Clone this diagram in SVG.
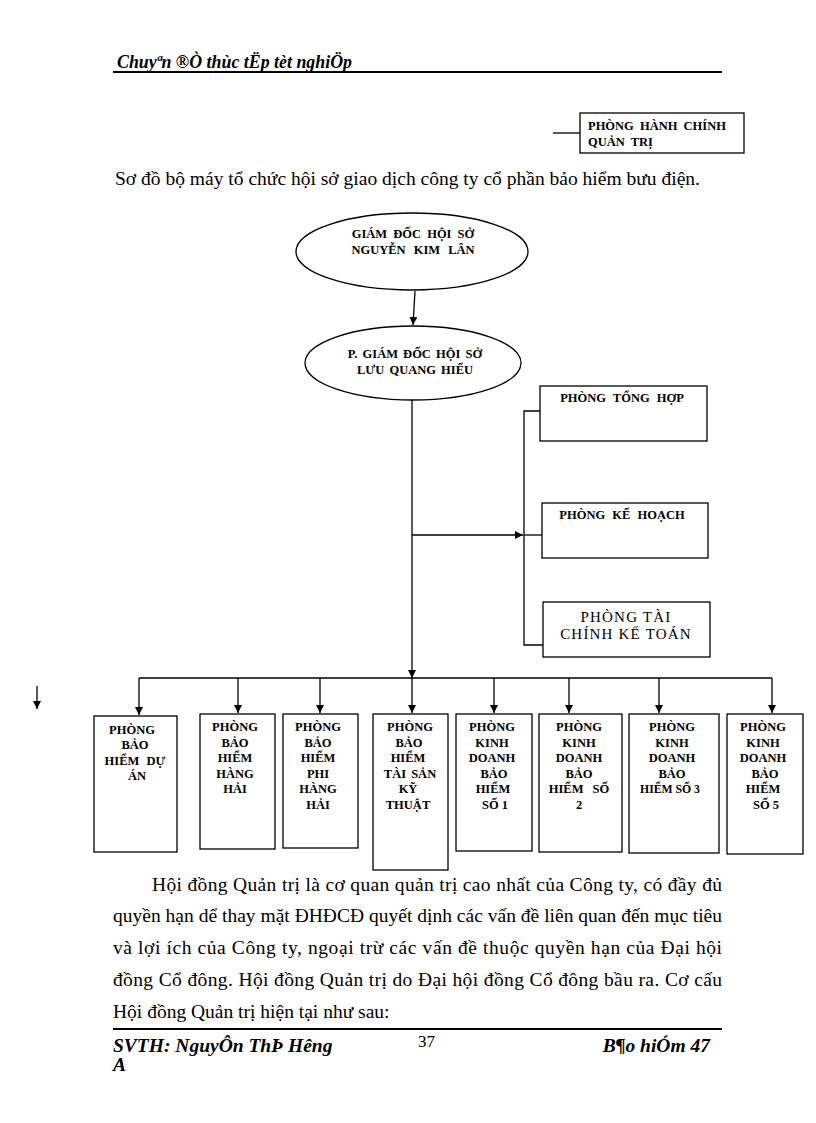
<svg xmlns="http://www.w3.org/2000/svg" width="816" height="1123" viewBox="0 0 816 1123">
<style>
text{font-family:"Liberation Serif","Times New Roman",serif;fill:#000}
.b{font-weight:bold;font-size:12.5px;text-anchor:middle}
.bl{font-weight:bold;font-size:12.5px}
.bx{fill:#fff;stroke:#000;stroke-width:1.3}
.ln{fill:none;stroke:#000;stroke-width:1.3}
.p{font-size:19.5px}
.hd{font-weight:bold;font-style:italic;font-size:18px}
.ft{font-weight:bold;font-style:italic;font-size:19.5px}
</style>
<defs>
<marker id="ar" viewBox="0 0 10 10" refX="10" refY="5" markerWidth="8" markerHeight="8" markerUnits="userSpaceOnUse" orient="auto">
<path d="M0,0 L10,5 L0,10 Z" fill="#000"/>
</marker>
</defs>
<rect width="816" height="1123" fill="#fff"/>

<!-- header -->
<text class="hd" x="117" y="68" textLength="235" lengthAdjust="spacingAndGlyphs">Chuyªn ®Ò thùc tËp tèt nghiÖp</text>
<line x1="113" y1="72" x2="722" y2="72" stroke="#000" stroke-width="2"/>

<text class="p" x="115" y="185" textLength="585" lengthAdjust="spacingAndGlyphs">Sơ đồ bộ máy tổ chức hội sở giao dịch công ty cổ phần bảo hiểm bưu điện.</text>

<g id="connectors">
<line class="ln" x1="553" y1="133" x2="580" y2="133"/>
<line class="ln" x1="415" y1="291" x2="413" y2="325" marker-end="url(#ar)"/>
<line class="ln" x1="412" y1="400" x2="412" y2="678" marker-end="url(#ar)"/>
<line class="ln" x1="412" y1="535" x2="523" y2="535" marker-end="url(#ar)"/>
<polyline class="ln" points="540,411 524,411 524,645 543,645"/>
<line class="ln" x1="524" y1="535" x2="542" y2="535"/>
<line class="ln" x1="139" y1="678" x2="772" y2="678"/>
<line class="ln" x1="139" y1="678" x2="139" y2="715" marker-end="url(#ar)"/>
<line class="ln" x1="238" y1="678" x2="238" y2="713" marker-end="url(#ar)"/>
<line class="ln" x1="320" y1="678" x2="320" y2="713" marker-end="url(#ar)"/>
<line class="ln" x1="412" y1="678" x2="412" y2="713" marker-end="url(#ar)"/>
<line class="ln" x1="494" y1="678" x2="494" y2="713" marker-end="url(#ar)"/>
<line class="ln" x1="569" y1="678" x2="569" y2="713" marker-end="url(#ar)"/>
<line class="ln" x1="659" y1="678" x2="659" y2="713" marker-end="url(#ar)"/>
<line class="ln" x1="772" y1="678" x2="772" y2="713" marker-end="url(#ar)"/>
<line class="ln" x1="37" y1="686" x2="37" y2="709" marker-end="url(#ar)"/>
</g>

<g id="n-hanhchinh">
<rect class="bx" x="580" y="113" width="164" height="40"/>
<text class="bl" x="588" y="130" word-spacing="3">PHÒNG HÀNH CHÍNH</text>
<text class="bl" x="588" y="146" word-spacing="3">QUẢN TRỊ</text>
</g>

<g id="n-giamdoc">
<ellipse class="bx" cx="412" cy="251.5" rx="116" ry="38.5"/>
<text class="b" x="413" y="238" word-spacing="3">GIÁM ĐỐC HỘI SỞ</text>
<text class="b" x="413" y="254" word-spacing="5">NGUYỄN KIM LÂN</text>
</g>

<g id="n-pgiamdoc">
<ellipse class="bx" cx="413" cy="363" rx="108" ry="37"/>
<text class="b" x="415" y="358" word-spacing="2">P. GIÁM ĐỐC HỘI SỞ</text>
<text class="b" x="415" y="374" word-spacing="2">LƯU QUANG HIẾU</text>
</g>

<g id="n-tonghop">
<rect class="bx" x="540" y="386" width="167" height="55"/>
<text class="b" x="622" y="402" word-spacing="4">PHÒNG TỔNG HỢP</text>
</g>

<g id="n-kehoach">
<rect class="bx" x="542" y="503" width="166" height="55"/>
<text class="b" x="622" y="519" word-spacing="4">PHÒNG KẾ HOẠCH</text>
</g>

<g id="n-taichinh">
<rect class="bx" x="543" y="602" width="167" height="55"/>
<text x="626" y="622" font-size="15" letter-spacing="1.2" text-anchor="middle">PHÒNG TÀI</text>
<text x="626" y="639" font-size="15" letter-spacing="1.2" text-anchor="middle">CHÍNH KẾ TOÁN</text>
</g>

<g id="n-duan">
<rect class="bx" x="94" y="716" width="83" height="136"/>
<text class="b" x="132" y="734">PHÒNG</text>
<text class="b" x="135" y="749">BẢO</text>
<text class="b" x="135" y="765" word-spacing="4">HIỂM DỰ</text>
<text class="b" x="137" y="780">ÁN</text>
</g>

<g id="n-hanghai">
<rect class="bx" x="200" y="714" width="75" height="135"/>
<text class="b" x="235" y="731">PHÒNG</text>
<text class="b" x="235" y="747">BẢO</text>
<text class="b" x="235" y="762">HIỂM</text>
<text class="b" x="235" y="778">HÀNG</text>
<text class="b" x="235" y="793">HẢI</text>
</g>

<g id="n-phihanghai">
<rect class="bx" x="283" y="714" width="75" height="134"/>
<text class="b" x="318" y="731">PHÒNG</text>
<text class="b" x="318" y="747">BẢO</text>
<text class="b" x="318" y="762">HIỂM</text>
<text class="b" x="318" y="778">PHI</text>
<text class="b" x="318" y="793">HÀNG</text>
<text class="b" x="318" y="809">HẢI</text>
</g>

<g id="n-taisan">
<rect class="bx" x="373" y="714" width="75" height="156"/>
<text class="b" x="410" y="731">PHÒNG</text>
<text class="b" x="409" y="747">BẢO</text>
<text class="b" x="408" y="762">HIỂM</text>
<text class="b" x="410" y="778" word-spacing="2">TÀI SẢN</text>
<text class="b" x="408" y="793">KỸ</text>
<text class="b" x="408" y="809">THUẬT</text>
</g>

<g id="n-kd1">
<rect class="bx" x="456" y="714" width="76" height="137"/>
<text class="b" x="492" y="731">PHÒNG</text>
<text class="b" x="492" y="747">KINH</text>
<text class="b" x="492" y="762">DOANH</text>
<text class="b" x="494" y="778">BẢO</text>
<text class="b" x="493" y="793">HIỂM</text>
<text class="b" x="495" y="809">SỐ 1</text>
</g>

<g id="n-kd2">
<rect class="bx" x="539" y="714" width="83" height="138"/>
<text class="b" x="579" y="731">PHÒNG</text>
<text class="b" x="579" y="747">KINH</text>
<text class="b" x="579" y="762">DOANH</text>
<text class="b" x="579" y="778">BẢO</text>
<text class="b" x="579" y="793" word-spacing="6">HIỂM SỐ</text>
<text class="b" x="579" y="809">2</text>
</g>

<g id="n-kd3">
<rect class="bx" x="629" y="714" width="90" height="139"/>
<text class="b" x="672" y="731">PHÒNG</text>
<text class="b" x="672" y="747">KINH</text>
<text class="b" x="672" y="762">DOANH</text>
<text class="b" x="672" y="778">BẢO</text>
<text class="b" x="670" y="793" textLength="60" lengthAdjust="spacingAndGlyphs">HIỂM SỐ 3</text>
</g>

<g id="n-kd5">
<rect class="bx" x="727" y="714" width="76" height="140"/>
<text class="b" x="763" y="731">PHÒNG</text>
<text class="b" x="763" y="747">KINH</text>
<text class="b" x="763" y="762">DOANH</text>
<text class="b" x="765" y="778">BẢO</text>
<text class="b" x="763" y="793">HIỂM</text>
<text class="b" x="766" y="809">SỐ 5</text>
</g>

<!-- paragraph -->
<text class="p" x="152" y="891" textLength="570" lengthAdjust="spacing">Hội đồng Quản trị là cơ quan quản trị cao nhất của Công ty, có đầy đủ</text>
<text class="p" x="113" y="922" textLength="609" lengthAdjust="spacing">quyền hạn dể thay mặt ĐHĐCĐ quyết dịnh các vấn đề liên quan đến mục tiêu</text>
<text class="p" x="113" y="954" textLength="609" lengthAdjust="spacing">và lợi ích của Công ty, ngoại trừ các vấn đề thuộc quyền hạn của Đại hội</text>
<text class="p" x="113" y="986" textLength="609" lengthAdjust="spacing">đồng Cổ đông. Hội đồng Quản trị do Đại hội đồng Cổ đông bầu ra. Cơ cấu</text>
<text class="p" x="113" y="1018">Hội đồng Quản trị hiện tại như sau:</text>

<!-- footer -->
<line x1="113" y1="1029" x2="722" y2="1029" stroke="#000" stroke-width="2"/>
<text class="ft" x="113" y="1052">SVTH: NguyÔn ThÞ Hêng</text>
<text class="ft" x="113" y="1071">A</text>
<text x="418" y="1047" font-size="17">37</text>
<text class="ft" x="710" y="1052" text-anchor="end">B¶o hiÓm 47</text>
</svg>
